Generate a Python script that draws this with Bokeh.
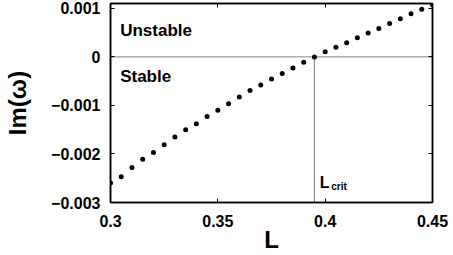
from bokeh.plotting import figure
from bokeh.models import (Range1d, LinearAxis, FixedTicker, CustomJSTickFormatter,
                          Span, Label, ColumnDataSource)
from bokeh.embed import file_html
from bokeh.resources import INLINE

# ---- data ----
L_values = [0.300, 0.305, 0.310, 0.315, 0.320, 0.325, 0.330, 0.335, 0.340, 0.345,
            0.350, 0.355, 0.360, 0.365, 0.370, 0.375, 0.380, 0.385, 0.390, 0.395,
            0.400, 0.405, 0.410, 0.415, 0.420, 0.425, 0.430, 0.435, 0.440, 0.445,
            0.450]
im_omega = [-0.00260, -0.00247, -0.00228, -0.00211, -0.00197, -0.00181, -0.00165,
            -0.00150, -0.00138, -0.00123, -0.00110, -0.000966, -0.000826, -0.000695,
            -0.000578, -0.000453, -0.000340, -0.000227, -0.000113, 0.0,
            0.000107, 0.000200, 0.000293, 0.000393, 0.000493, 0.000587, 0.000687,
            0.000787, 0.000887, 0.000980, 0.001073]
L_crit = 0.395
x_ticks = [0.3, 0.35, 0.4, 0.45]
y_ticks = [-0.003, -0.002, -0.001, 0.0, 0.001]
x_lo, x_hi = 0.3, 0.45
y_lo, y_hi = -0.003, 0.0011

FONT = "Liberation Sans"

p = figure(width=453, height=255, x_range=Range1d(x_lo, x_hi), y_range=Range1d(y_lo, y_hi),
           output_backend="svg", toolbar_location=None,
           min_border_left=110, min_border_right=21, min_border_top=3, min_border_bottom=47)
p.xgrid.visible = False
p.ygrid.visible = False
p.outline_line_color = "black"
p.outline_line_width = 1.5
p.background_fill_color = "white"
p.border_fill_color = "white"

xfmt = CustomJSTickFormatter(code="return parseFloat(tick.toFixed(2)).toString();")
yfmt = CustomJSTickFormatter(code="""
if (Math.abs(tick) < 1e-12) return '0';
return (tick < 0 ? '\u2212' : '') + Math.abs(tick).toFixed(3);
""")

def style_axis(ax, ticks, fmt):
    ax.ticker = FixedTicker(ticks=ticks)
    ax.formatter = fmt
    ax.major_tick_in = 4
    ax.major_tick_out = 0
    ax.minor_tick_line_color = None
    ax.major_tick_line_color = "black"
    ax.major_tick_line_width = 1
    ax.axis_line_color = "black"
    ax.axis_line_width = 1.5
    ax.major_label_text_font = FONT
    ax.major_label_text_font_style = "bold"
    ax.major_label_text_font_size = "16px"
    ax.major_label_text_color = "black"
    ax.axis_label_text_font = FONT
    ax.axis_label_text_font_style = "bold"
    ax.axis_label_text_font_size = "24px"
    ax.axis_label_text_color = "black"

style_axis(p.xaxis[0], x_ticks, xfmt)
style_axis(p.yaxis[0], y_ticks, yfmt)
p.xaxis[0].axis_label = "L"
p.yaxis[0].axis_label = "Im(ω)"
p.xaxis[0].major_label_standoff = 12
p.xaxis[0].axis_label_standoff = -4
p.yaxis[0].major_label_standoff = 10
p.yaxis[0].axis_label_standoff = 17

# mirror ticks
for loc, ticks in (("above", x_ticks), ("right", y_ticks)):
    ax = LinearAxis()
    ax.ticker = FixedTicker(ticks=ticks)
    ax.major_tick_in = 4
    ax.major_tick_out = 0
    ax.minor_tick_line_color = None
    ax.major_tick_line_color = "black"
    ax.axis_line_color = "black"
    ax.axis_line_width = 1.5
    ax.major_label_text_font_size = "0px"
    ax.major_label_standoff = 0
    ax.formatter = CustomJSTickFormatter(code="return '';")
    p.add_layout(ax, loc)

# dotted reference lines
p.add_layout(Span(location=0, dimension="width", line_color="black",
                  line_dash="1 1", line_width=1))
src_v = ColumnDataSource(dict(x0=[L_crit], y0=[y_lo], x1=[L_crit], y1=[0.0]))
p.segment("x0", "y0", "x1", "y1", source=src_v, line_color="black",
          line_dash="1 1", line_width=1)

src = ColumnDataSource(dict(L=L_values, im=im_omega))
p.scatter("L", "im", source=src, size=5, fill_color="black", line_color=None)

# texts
def lab(x, y, t, size):
    p.add_layout(Label(x=x, y=y, text=t, text_font=FONT, text_font_style="bold",
                       text_font_size=size, text_color="black",
                       text_baseline="alphabetic", text_align="left"))

lab(0.3045, 0.00054, "Unstable", "17px")
lab(0.3045, -0.000396, "Stable", "17px")
lab(0.3975, -0.00259, "L", "16px")
lab(0.4028, -0.00267, "crit", "10px")

open("out.html", "w").write(file_html(p, INLINE))
